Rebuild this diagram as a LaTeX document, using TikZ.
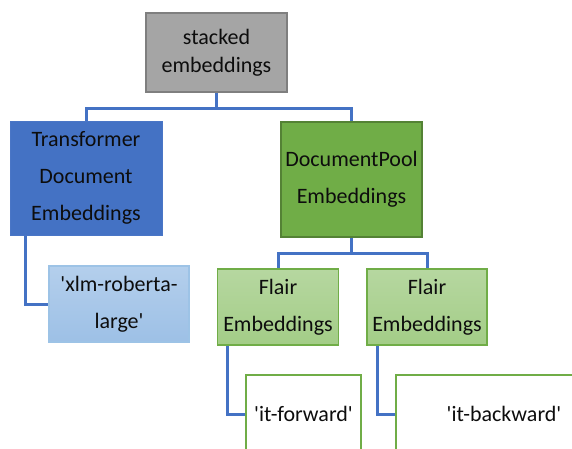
\documentclass[tikz,border=0pt]{standalone}
\usepackage{fontspec}
\setmainfont{Carlito}
\usetikzlibrary{calc}
\definecolor{grayfill}{HTML}{A5A5A5}
\definecolor{grayline}{HTML}{7F7F7F}
\definecolor{bluefill}{HTML}{4472C4}
\definecolor{blueline}{HTML}{4A76C6}
\definecolor{greenfill}{HTML}{70AD47}
\definecolor{greenline}{HTML}{548235}
\definecolor{lbtop}{HTML}{B4CFEC}
\definecolor{lbbot}{HTML}{9DC0E6}
\definecolor{lbline}{HTML}{9DC3E6}
\definecolor{lgtop}{HTML}{B6D7A0}
\definecolor{lgbot}{HTML}{A3CD87}
\definecolor{lgline}{HTML}{70AD47}
\definecolor{conn}{HTML}{4472C4}
\definecolor{txt}{HTML}{0D0D0D}
\tikzset{
  box/.style={rectangle, inner sep=0pt, align=center, text=txt,
    font=\fontsize{22}{37}\selectfont},
  graybox/.style={box, fill=grayfill, draw=grayline, line width=2pt},
  bluebox/.style={box, fill=bluefill, draw=blueline, line width=1pt},
  greenbox/.style={box, fill=greenfill, draw=greenline, line width=2pt},
  lbluebox/.style={box, top color=lbtop, bottom color=lbbot, draw=lbline, line width=1.2pt},
  lgreenbox/.style={box, top color=lgtop, bottom color=lgbot, draw=lgline, line width=1.5pt},
  whitebox/.style={box, fill=white, draw=lgline, line width=2pt},
  link/.style={draw=conn, line width=3pt}
}
\begin{document}
\begin{tikzpicture}[x=1pt,y=-1pt]
\useasboundingbox (0,0) rectangle (572,448);
\clip (0,0) rectangle (572,448);
\fill[white] (0,0) rectangle (572,448);
\node[graybox, minimum width=141pt, minimum height=79pt, font=\fontsize{22}{28}\selectfont] (top) at (216.5,52.5) {stacked\\embeddings};
\node[bluebox, minimum width=152pt, minimum height=114pt] (tr) at (86,178) {Transformer\\Document\\Embeddings};
\node[greenbox, minimum width=141pt, minimum height=115pt] (dp) at (351.5,179.5) {DocumentPool\\Embeddings};
\node[lbluebox, minimum width=140pt, minimum height=76pt] (xlm) at (119,304) {\textquotesingle xlm-roberta-\\large\textquotesingle};
\node[lgreenbox, minimum width=121pt, minimum height=76pt] (f1) at (278,307) {Flair\\Embeddings};
\node[lgreenbox, minimum width=120pt, minimum height=76pt] (f2) at (427,307) {Flair\\Embeddings};
\node[whitebox, minimum width=115pt, minimum height=78pt] (fw) at (303.5,414) {\textquotesingle it-forward\textquotesingle};
\node[whitebox, minimum width=216pt, minimum height=78pt] (bw) at (504,414) {\textquotesingle it-backward\textquotesingle};
\draw[link] (top.south) -- ++(0,15) coordinate (tj) -| (tr.north);
\draw[link] (tj) -| (dp.north);
\draw[link] ([xshift=16pt]tr.south west) |- (xlm.west);
\draw[link] (dp.south) -- ++(0,15) coordinate (dj) -| (f1.north);
\draw[link] (dj) -| (f2.north);
\draw[link] ([xshift=11pt]f1.south west) |- (fw.west);
\draw[link] ([xshift=11pt]f2.south west) |- (bw.west);
\end{tikzpicture}
\end{document}
